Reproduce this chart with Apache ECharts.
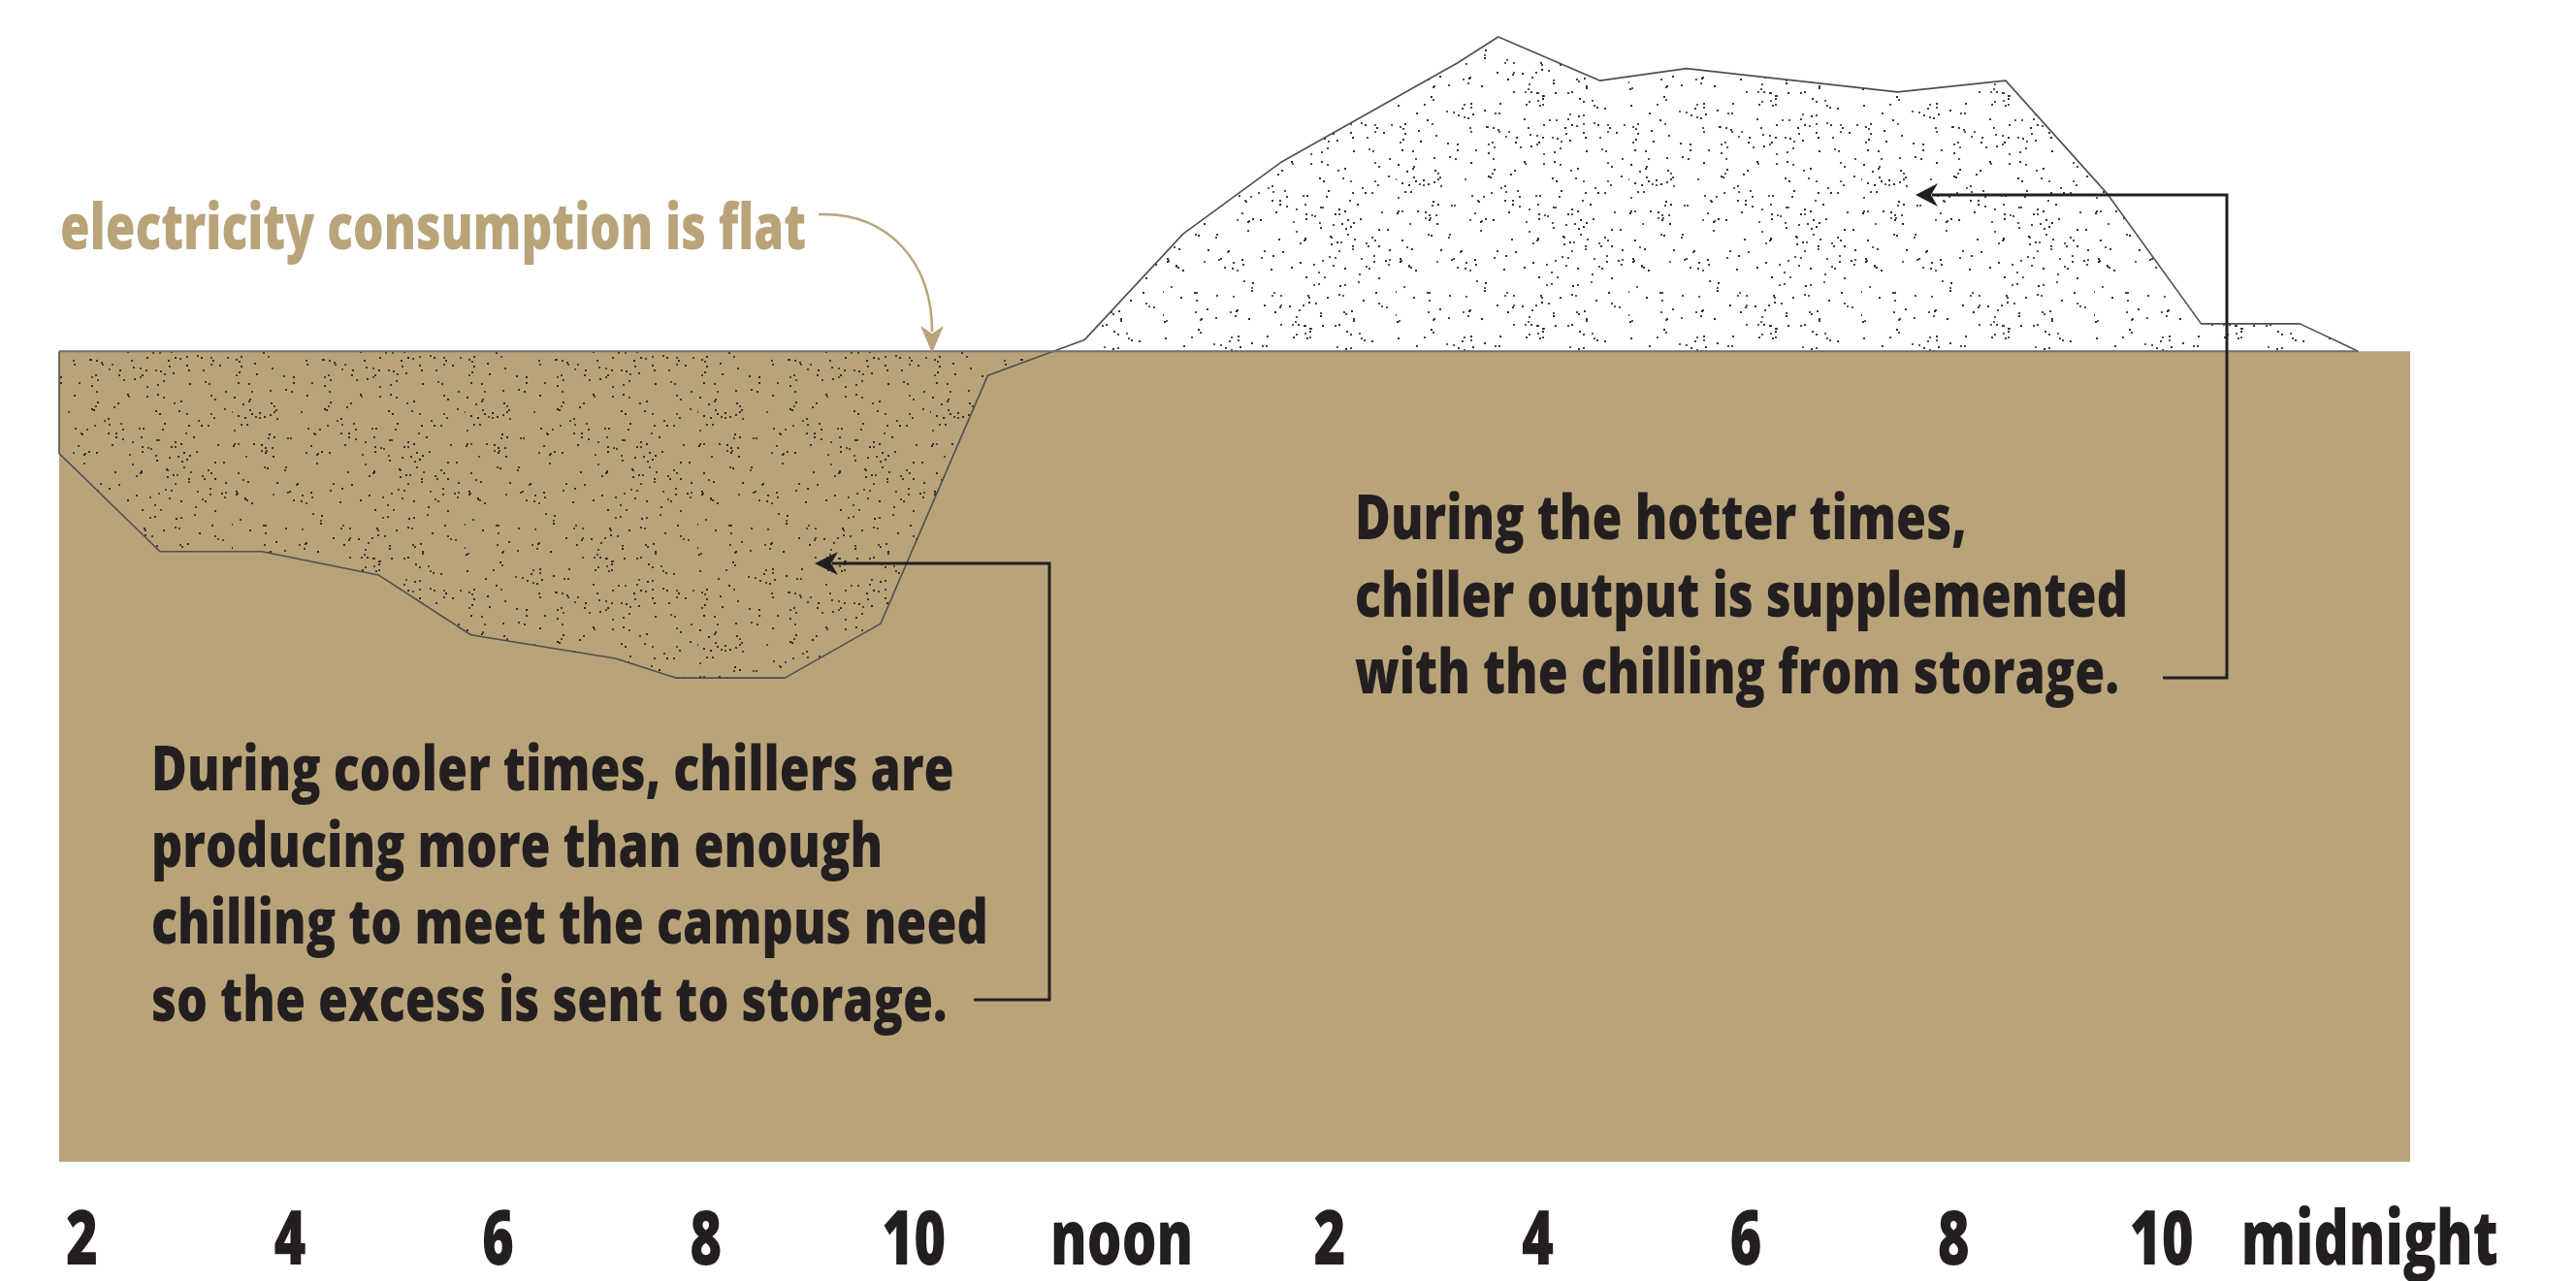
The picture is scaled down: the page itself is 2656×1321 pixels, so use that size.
<!DOCTYPE html>
<html>
<head>
<meta charset="utf-8">
<script src="https://cdn.jsdelivr.net/npm/echarts@6.0.0/dist/echarts.min.js"></script>
<style>
  html, body { margin: 0; padding: 0; background: #ffffff; }
  #main { width: 2656px; height: 1321px; }
</style>
</head>
<body>
<div id="main"></div>
<script>
// ---- data ----
const X_MIN = 1.78;            // hour at left edge of the plot
const X_MAX = 24.39;           // hour at right edge of the plot
const FLAT = 100;              // flat electricity consumption level
const Y_MAX = 140;

// campus chilling demand (hours, relative level)
const hours  = [1.78, 1.78, 2.75, 3.73, 4.85, 5.74, 7.13, 7.71, 8.76, 9.68, 10.71, 11.64, 12.59, 13.54, 15.23, 15.62, 16.60, 17.43, 19.46, 20.50, 21.48, 22.38, 23.33, 23.89];
const demand = [100, 87.4, 75.3, 75.3, 72.4, 65.0, 62.1, 59.7, 59.7, 66.4, 97.0, 101.4, 114.5, 123.4, 135.6, 138.8, 133.4, 134.9, 132.0, 133.4, 119.4, 103.4, 103.4, 100];

const tickHours  = [2, 4, 6, 8, 10, 12, 14, 16, 18, 20, 22, 24];
const tickLabels = ['2', '4', '6', '8', '10', 'noon', '2', '4', '6', '8', '10', 'midnight'];

const labelFlat  = 'electricity consumption is flat';
const noteCool   = ['During cooler times, chillers are', 'producing more than enough', 'chilling to meet the campus need', 'so the excess is sent to storage.'];
const noteHot    = ['During the hotter times,', 'chiller output is supplemented', 'with the chilling from storage.'];

// ---- styles ----
const TAN = '#b9a47a';
const INK = '#231f20';
const FONT_FAMILY = '"Open Sans", "Noto Sans", sans-serif';

function makeStipple() {
  const size = 240;
  const c = document.createElement('canvas');
  c.width = size; c.height = size;
  const g = c.getContext('2d');
  let s = 2463534242;
  const rnd = () => { s ^= s << 13; s ^= s >>> 17; s ^= s << 5; return (s >>> 0) / 4294967296; };
  g.fillStyle = '#2a2627';
  for (let i = 0; i < 380; i++) {
    const x = Math.floor(rnd() * size), y = Math.floor(rnd() * size);
    g.globalAlpha = 0.75 + 0.25 * rnd();
    g.fillRect(x, y, 2, 2);
  }
  return c;
}

const measureCtx = document.createElement('canvas').getContext('2d');
function fontOf(size, weight) { return weight + ' ' + size + 'px ' + FONT_FAMILY; }
function fitScale(lines, font, targets) {
  measureCtx.font = font;
  let ratio = 0, n = 0;
  lines.forEach((t, i) => {
    if (targets[i]) { ratio += targets[i] / measureCtx.measureText(t).width; n++; }
  });
  return ratio / n;
}
function middleOffset(font) {
  measureCtx.font = font;
  measureCtx.textBaseline = 'middle';
  const off = measureCtx.measureText('H').actualBoundingBoxDescent;
  measureCtx.textBaseline = 'alphabetic';
  return off;
}
function textBlock(lines, x, baselines, size, weight, color, targets) {
  const font = fontOf(size, weight);
  const sx = fitScale(lines, font, targets);
  const off = middleOffset(font);
  return lines.map((t, i) => ({
    type: 'text', x: x, y: baselines[i] - off, scaleX: sx, scaleY: 1, silent: true, z: 50,
    style: { text: t, fill: color, font: font, align: 'left', verticalAlign: 'middle' }
  }));
}

const chart = echarts.init(document.getElementById('main'), null, { renderer: 'canvas' });

const demandData = hours.map((h, i) => [h, demand[i]]);
const flatData = [[hours[0], FLAT], [hours[hours.length - 1], FLAT]];
const baseData = [[X_MIN, FLAT], [X_MAX, FLAT]];

const graphics = []
  .concat(textBlock([labelFlat], 62, [257], 66, 800, TAN, [769]))
  .concat(textBlock(noteCool, 156, [815, 894, 973, 1053], 64, 800, INK, [825, 756, 865, 819]))
  .concat(textBlock(noteHot, 1397, [556, 636, 715], 64, 800, INK, [629, 795, 792]))
  .concat([
    // tan curved arrow
    { type: 'bezierCurve', silent: true, z: 50,
      shape: { x1: 844, y1: 221, cpx1: 918, cpy1: 219, cpx2: 961, cpy2: 272, x2: 961, y2: 342 },
      style: { stroke: TAN, lineWidth: 2.5, fill: null } },
    { type: 'polygon', silent: true, z: 50,
      shape: { points: [[961, 364], [949, 336], [961, 344], [973, 336]] },
      style: { fill: TAN } },
    // lower connector
    { type: 'polyline', silent: true, z: 50,
      shape: { points: [[1004, 1031], [1082, 1031], [1082, 581], [858, 581]] },
      style: { stroke: INK, lineWidth: 3, fill: null } },
    { type: 'polygon', silent: true, z: 50,
      shape: { points: [[840, 581], [864, 569], [857, 581], [864, 593]] },
      style: { fill: INK } },
    // upper connector
    { type: 'polyline', silent: true, z: 50,
      shape: { points: [[2230, 699], [2296, 699], [2296, 201], [1992, 201]] },
      style: { stroke: INK, lineWidth: 3, fill: null } },
    { type: 'polygon', silent: true, z: 50,
      shape: { points: [[1975, 201], [1998, 189], [1991, 201], [1998, 213]] },
      style: { fill: INK } }
  ]);

chart.setOption({
  animation: false,
  backgroundColor: '#ffffff',
  grid: { left: 61, right: 171, top: 28, bottom: 123 },
  xAxis: {
    type: 'value', min: X_MIN, max: X_MAX,
    axisLine: { show: false }, axisTick: { show: false }, splitLine: { show: false },
    axisLabel: { show: false }
  },
  yAxis: { type: 'value', min: 0, max: Y_MAX, show: false },
  series: [
    { name: 'flat electricity', type: 'line', data: baseData, symbol: 'none', silent: true,
      lineStyle: { width: 0, opacity: 0 }, areaStyle: { color: TAN, opacity: 1 }, z: 1 },
    { name: 'chilling demand', type: 'line', data: demandData, symbol: 'none', silent: true,
      lineStyle: { color: '#4f4f4f', width: 1.6 },
      areaStyle: { origin: FLAT, color: { image: makeStipple(), repeat: 'repeat' }, opacity: 1 }, z: 2 },
    { name: 'flat line', type: 'line', data: flatData, symbol: 'none', silent: true,
      lineStyle: { color: '#6e6e6e', width: 2 }, z: 3 }
  ],
  graphic: graphics
});

// hour tick labels, placed through the x axis scale (condensed to match the reference type)
(function addTickLabels() {
  const font = fontOf(78, 800);
  const sx = fitScale(['10', 'noon', 'midnight'], font, [66, 146, 268]);
  const off = middleOffset(font);
  const baseline = 1304;
  const labels = tickHours.map((h, i) => ({
    type: 'text', id: 'tick' + i, silent: true, z: 50,
    x: chart.convertToPixel({ xAxisIndex: 0 }, h), y: baseline - off, scaleX: sx, scaleY: 1,
    style: { text: tickLabels[i], fill: INK, font: font, align: 'center', verticalAlign: 'middle' }
  }));
  chart.setOption({ graphic: graphics.concat(labels) });
})();
</script>
</body>
</html>
